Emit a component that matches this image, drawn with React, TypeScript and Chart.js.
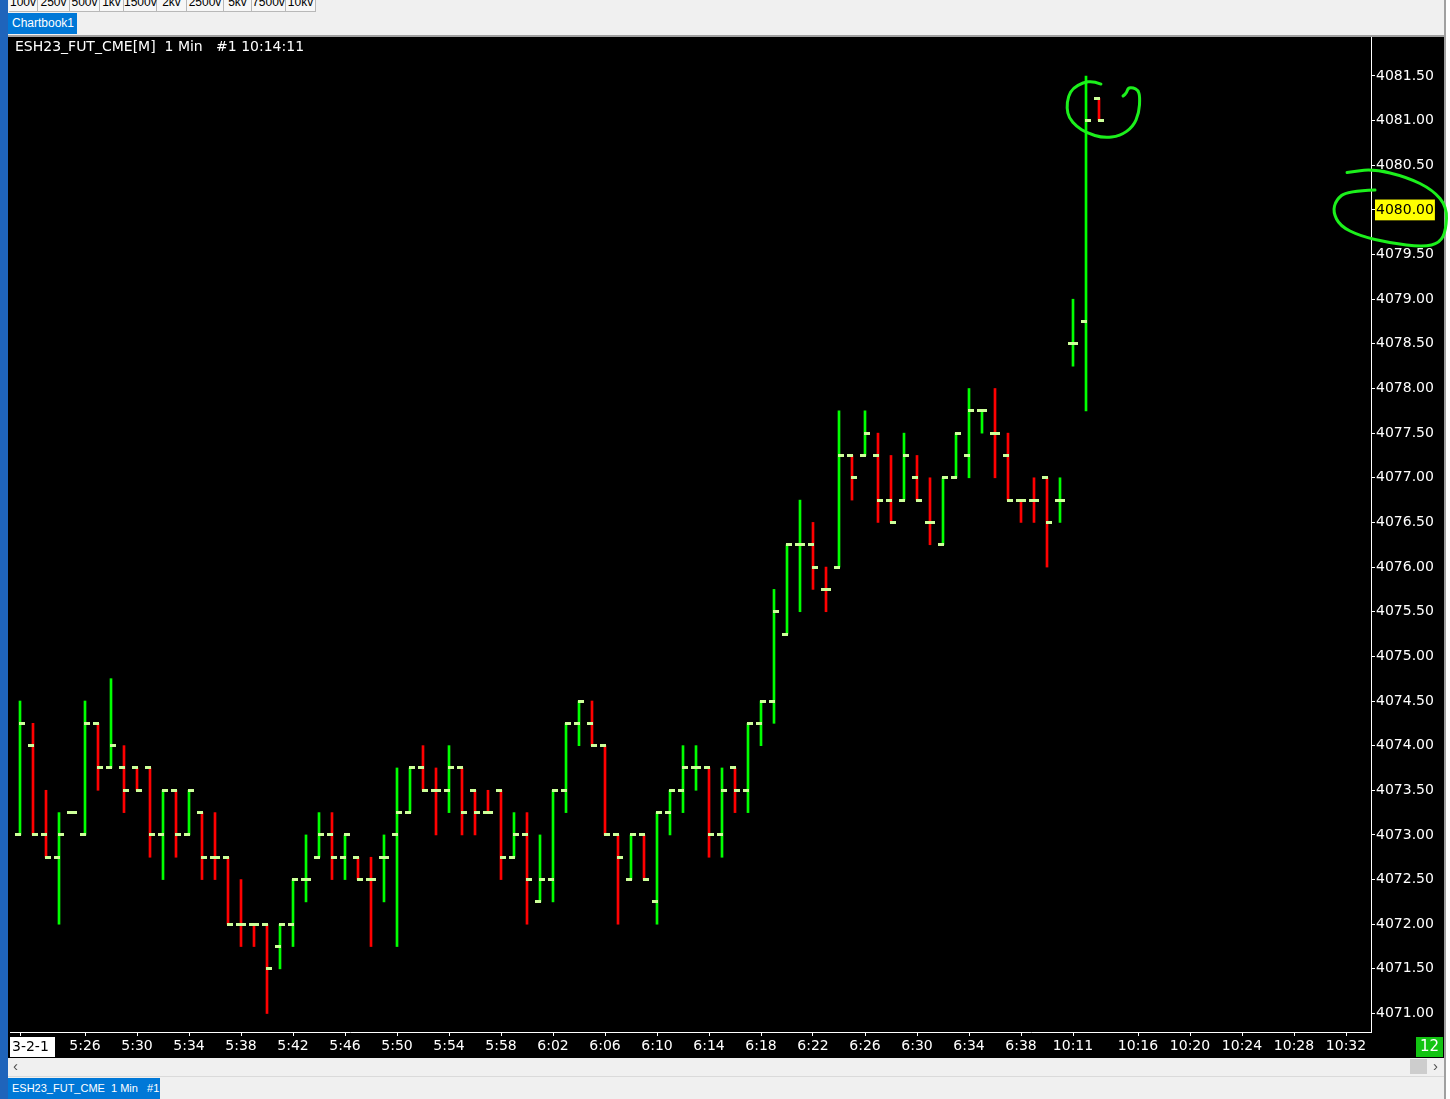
import React, { useEffect, useRef } from "react";
import { Chart, registerables } from "chart.js";

Chart.register(...registerables);

// ---- data (1-minute OHLC bars, slot index = position on the time axis) ----
const opens = [
  4073.0, 4074.0, 4073.0, 4072.75, 4073.25, 4073.0, 4074.25, 4073.75, 4073.75, 4073.75,
  4073.75, 4073.0, 4073.5, 4073.0, 4073.25, 4072.75, 4072.75, 4072.0, 4072.0, 4072.0,
  4071.75, 4072.0, 4072.5, 4072.75, 4073.0, 4072.75, 4072.75, 4072.5, 4072.75, 4073.0,
  4073.25, 4073.75, 4073.5, 4073.5, 4073.75, 4073.5, 4073.25, 4073.5, 4072.75, 4073.0,
  4072.25, 4072.5, 4073.5, 4074.25, 4074.25, 4074.0, 4073.0, 4072.5, 4073.0, 4072.25,
  4073.25, 4073.5, 4073.75, 4073.75, 4073.0, 4073.75, 4073.5, 4074.25, 4074.5, 4075.25,
  4076.25, 4076.25, 4075.75, 4076.0, 4077.25, 4077.25, 4077.25, 4076.75, 4076.75, 4077.0,
  4076.5, 4076.25, 4077.0, 4077.25, 4077.75, 4077.5, 4077.25, 4076.75, 4076.75, 4077.0,
  4076.75, 4078.5, 4078.75, 4081.25,
];
const highs = [
  4074.5, 4074.25, 4073.5, 4073.25, 4073.25, 4074.5, 4074.25, 4074.75, 4074.0, 4073.75,
  4073.75, 4073.5, 4073.5, 4073.5, 4073.25, 4073.25, 4072.75, 4072.5, 4072.0, 4072.0,
  4072.0, 4072.5, 4073.0, 4073.25, 4073.25, 4073.0, 4072.75, 4072.75, 4073.0, 4073.75,
  4073.75, 4074.0, 4073.75, 4074.0, 4073.75, 4073.5, 4073.5, 4073.5, 4073.25, 4073.25,
  4073.0, 4073.5, 4074.25, 4074.5, 4074.5, 4074.0, 4073.0, 4073.0, 4073.0, 4073.25,
  4073.5, 4074.0, 4074.0, 4073.75, 4073.75, 4073.75, 4074.25, 4074.5, 4075.75, 4076.25,
  4076.75, 4076.5, 4076.0, 4077.75, 4077.25, 4077.75, 4077.5, 4077.25, 4077.5, 4077.25,
  4077.0, 4077.0, 4077.5, 4078.0, 4077.75, 4078.0, 4077.5, 4076.75, 4077.0, 4077.0,
  4077.0, 4079.0, 4081.5, 4081.25,
];
const lows = [
  4073.0, 4073.0, 4072.75, 4072.0, 4073.25, 4073.0, 4073.5, 4073.75, 4073.25, 4073.5,
  4072.75, 4072.5, 4072.75, 4073.0, 4072.5, 4072.5, 4072.0, 4071.75, 4071.75, 4071.0,
  4071.5, 4071.75, 4072.25, 4072.75, 4072.5, 4072.5, 4072.5, 4071.75, 4072.25, 4071.75,
  4073.25, 4073.5, 4073.0, 4073.25, 4073.0, 4073.0, 4073.25, 4072.5, 4072.75, 4072.0,
  4072.25, 4072.25, 4073.25, 4074.0, 4074.0, 4073.0, 4072.0, 4072.5, 4072.5, 4072.0,
  4073.0, 4073.25, 4073.5, 4072.75, 4072.75, 4073.25, 4073.25, 4074.0, 4074.25, 4075.25,
  4075.5, 4075.75, 4075.5, 4076.0, 4076.75, 4077.25, 4076.5, 4076.5, 4076.75, 4076.75,
  4076.25, 4076.25, 4077.0, 4077.0, 4077.5, 4077.0, 4076.75, 4076.5, 4076.5, 4076.0,
  4076.5, 4078.25, 4077.75, 4081.0,
];
const closes = [
  4074.25, 4073.0, 4072.75, 4073.0, 4073.25, 4074.25, 4073.75, 4074.0, 4073.5, 4073.5,
  4073.0, 4073.5, 4073.0, 4073.5, 4072.75, 4072.75, 4072.0, 4072.0, 4072.0, 4071.5,
  4072.0, 4072.5, 4072.5, 4073.0, 4072.75, 4073.0, 4072.5, 4072.5, 4072.75, 4073.25,
  4073.75, 4073.5, 4073.5, 4073.75, 4073.25, 4073.25, 4073.25, 4072.75, 4073.0, 4072.5,
  4072.5, 4073.5, 4074.25, 4074.5, 4074.0, 4073.0, 4072.75, 4073.0, 4072.5, 4073.25,
  4073.5, 4073.75, 4073.75, 4073.0, 4073.5, 4073.5, 4074.25, 4074.5, 4075.5, 4076.25,
  4076.25, 4076.0, 4075.75, 4077.25, 4077.0, 4077.5, 4076.75, 4076.5, 4077.25, 4076.75,
  4076.5, 4077.0, 4077.5, 4077.75, 4077.75, 4077.5, 4076.75, 4076.75, 4076.75, 4076.5,
  4076.75, 4078.5, 4081.0, 4081.0,
];

// time axis ticks (slot index -> label); slot 0 carries the date label
const tickSlots = [0, 5, 9, 13, 17, 21, 25, 29, 33, 37, 41, 45, 49, 53, 57, 61, 65, 69, 73, 77, 81, 86, 90, 94, 98, 102];
const tickLabels = [
  "", "5:26", "5:30", "5:34", "5:38", "5:42", "5:46", "5:50", "5:54", "5:58", "6:02", "6:06", "6:10",
  "6:14", "6:18", "6:22", "6:26", "6:30", "6:34", "6:38", "10:11", "10:16", "10:20", "10:24", "10:28", "10:32",
];
const dateLabel = "3-2-1";

const priceTicks = [
  4071.0, 4071.5, 4072.0, 4072.5, 4073.0, 4073.5, 4074.0, 4074.5, 4075.0, 4075.5, 4076.0,
  4076.5, 4077.0, 4077.5, 4078.0, 4078.5, 4079.0, 4079.5, 4080.0, 4080.5, 4081.0, 4081.5,
];
const highlightedPrice = 4080.0;
const titleText = "ESH23_FUT_CME[M]  1 Min   #1 10:14:11";
const countdownText = "12";

// hand-drawn annotation strokes, as [slot, price]
const ringAroundLastBars = [
  [83.15, 4081.41], [82.54, 4081.444], [81.77, 4081.425], [81.0, 4081.366], [80.62, 4081.268],
  [80.52, 4081.142], [80.69, 4081.03], [81.28, 4080.932], [82.05, 4080.862], [83.31, 4080.806],
  [84.62, 4080.828], [85.62, 4080.932], [86.08, 4081.086], [86.15, 4081.268], [86.0, 4081.343],
  [85.62, 4081.369], [85.23, 4081.366], [85.13, 4081.31], [84.85, 4081.276],
];
const ringAroundPrice = [
  [104.23, 4080.223], [102.08, 4080.212], [101.23, 4080.111], [101.0, 4079.977], [101.54, 4079.82],
  [103.08, 4079.708], [105.38, 4079.63], [107.92, 4079.585], [109.23, 4079.63], [109.69, 4079.775],
  [109.77, 4080.033], [108.69, 4080.223], [106.69, 4080.369], [104.08, 4080.46], [102.08, 4080.42],
];

const UP = "#00ff00";
const DOWN = "#ff0000";
const TICK = "#ccff99";
const FONT = "'DejaVu Sans', sans-serif";

function barColors(): string[] {
  const out: string[] = [];
  let up = true;
  for (let i = 0; i < closes.length; i++) {
    if (closes[i] > opens[i]) up = true;
    else if (closes[i] < opens[i]) up = false;
    else if (i > 0 && closes[i] > closes[i - 1]) up = true;
    else if (i > 0 && closes[i] < closes[i - 1]) up = false;
    out.push(up ? UP : DOWN);
  }
  return out;
}

function makeTick(side: "open" | "close"): HTMLCanvasElement {
  const c = document.createElement("canvas");
  c.width = 10;
  c.height = 3;
  const g = c.getContext("2d")!;
  g.fillStyle = TICK;
  if (side === "open") g.fillRect(0, 0, 6, 3);
  else g.fillRect(4, 0, 6, 3);
  return c;
}

function strokeRing(chart: any, pts: number[][]) {
  const { ctx } = chart;
  const xs = chart.scales.x;
  const ys = chart.scales.y;
  const p = pts.map(([i, v]) => [xs.getPixelForValue(i), ys.getPixelForValue(v)]);
  ctx.save();
  ctx.strokeStyle = "#1cf01c";
  ctx.lineWidth = 3;
  ctx.lineCap = "round";
  ctx.lineJoin = "round";
  ctx.beginPath();
  ctx.moveTo(p[0][0], p[0][1]);
  for (let k = 1; k < p.length - 1; k++) {
    const mx = (p[k][0] + p[k + 1][0]) / 2;
    const my = (p[k][1] + p[k + 1][1]) / 2;
    ctx.quadraticCurveTo(p[k][0], p[k][1], mx, my);
  }
  const last = p[p.length - 1];
  ctx.lineTo(last[0], last[1]);
  ctx.stroke();
  ctx.restore();
}

const decorPlugin = {
  id: "decor",
  beforeDraw(chart: any) {
    const { ctx, chartArea } = chart;
    ctx.save();
    ctx.fillStyle = "#000";
    ctx.fillRect(0, 0, chartArea.right + 73, chart.height);
    ctx.restore();
  },
  afterDraw(chart: any) {
    const { ctx, chartArea } = chart;
    ctx.save();
    ctx.font = `14px ${FONT}`;
    ctx.fillStyle = "#fff";
    ctx.textAlign = "left";
    ctx.textBaseline = "alphabetic";
    ctx.fillText(titleText, chartArea.left + 5, chartArea.top + 14);

    // date label box at the start of the time axis
    ctx.fillStyle = "#fff";
    ctx.fillRect(chartArea.left, chartArea.bottom + 5, 45, 20);
    ctx.fillStyle = "#000";
    ctx.textBaseline = "middle";
    ctx.fillText(dateLabel, chartArea.left + 2, chartArea.bottom + 15);

    // bar countdown box
    ctx.fillStyle = "#12c412";
    ctx.fillRect(chartArea.right + 45, chartArea.bottom + 5, 27, 20);
    ctx.fillStyle = "#fff";
    ctx.textAlign = "center";
    ctx.font = `15px ${FONT}`;
    ctx.fillText(countdownText, chartArea.right + 58.5, chartArea.bottom + 15);
    ctx.restore();

    strokeRing(chart, ringAroundLastBars);
    strokeRing(chart, ringAroundPrice);
  },
};

const toolbarButtons = [
  ["100v", 29], ["250v", 32], ["500v", 30], ["1kv", 24], ["1500v", 33],
  ["2kv", 30], ["2500v", 37], ["5kv", 28], ["7500v", 34], ["10kv", 30],
] as const;

function noPadding(s: any) {
  s.paddingLeft = 0;
  s.paddingRight = 0;
  s.paddingTop = 0;
  s.paddingBottom = 0;
}

export default function App() {
  const canvasRef = useRef<HTMLCanvasElement | null>(null);

  useEffect(() => {
    const canvas = canvasRef.current;
    if (!canvas) return;
    const colors = barColors();
    const openImg = makeTick("open");
    const closeImg = makeTick("close");
    const xMin = -10 / 13;
    const xMax = xMin + 1361 / 13;

    const chart = new Chart(canvas, {
      type: "bar",
      data: {
        datasets: [
          {
            type: "scatter",
            data: opens.map((o, i) => ({ x: i, y: o })),
            pointStyle: openImg as any,
            pointRadius: 3,
            order: 1,
          } as any,
          {
            type: "scatter",
            data: closes.map((c, i) => ({ x: i, y: c })),
            pointStyle: closeImg as any,
            pointRadius: 3,
            order: 1,
          } as any,
          {
            type: "bar",
            data: highs.map((h, i) => ({ x: i, y: [lows[i], h] })),
            backgroundColor: colors,
            borderWidth: 0,
            barThickness: 2,
            order: 2,
          } as any,
        ],
      },
      options: {
        responsive: false,
        animation: false,
        events: [],
        layout: { padding: 0, autoPadding: false },
        plugins: {
          legend: { display: false },
          tooltip: { enabled: false },
          title: { display: false },
        },
        scales: {
          x: {
            type: "linear",
            position: "bottom",
            min: xMin,
            max: xMax,
            offset: false,
            afterBuildTicks: (s: any) => {
              s.ticks = tickSlots.map((v) => ({ value: v }));
            },
            afterFit: (s: any) => {
              s.height = 26;
              noPadding(s);
            },
            ticks: {
              autoSkip: false,
              maxRotation: 0,
              minRotation: 0,
              color: "#fff",
              padding: 2,
              font: { family: FONT, size: 14 },
              callback: (_v: any, i: number) => tickLabels[i],
            },
            grid: {
              display: true,
              offset: false,
              drawOnChartArea: false,
              drawTicks: true,
              tickLength: 4,
              color: "#fff",
            },
            border: { display: true, color: "#fff", width: 1 },
          },
          y: {
            type: "linear",
            position: "right",
            min: 4070.7928,
            max: 4081.9368,
            afterBuildTicks: (s: any) => {
              s.ticks = priceTicks.map((v) => ({ value: v }));
            },
            afterFit: (s: any) => {
              s.width = 79;
              noPadding(s);
            },
            ticks: {
              padding: 1,
              font: { family: FONT, size: 14 },
              color: (c: any) => (c.tick && c.tick.value === highlightedPrice ? "#000" : "#fff"),
              showLabelBackdrop: (c: any) => !!(c.tick && c.tick.value === highlightedPrice),
              backdropColor: (c: any) =>
                c.tick && c.tick.value === highlightedPrice ? "#ffff00" : "rgba(0,0,0,0)",
              backdropPadding: { top: 2, bottom: 2, left: 1, right: 1 },
              callback: (v: any) => Number(v).toFixed(2),
            },
            grid: {
              display: true,
              drawOnChartArea: false,
              drawTicks: true,
              tickLength: 4,
              color: "#fff",
            },
            border: { display: true, color: "#fff", width: 1 },
          },
        },
      } as any,
      plugins: [decorPlugin],
    });
    return () => chart.destroy();
  }, []);

  let bx = 9;
  return (
    <div
      style={{
        position: "fixed",
        left: 0,
        top: 0,
        width: 1450,
        height: 1099,
        background: "#f0f0f0",
        overflow: "hidden",
        fontFamily: "'Liberation Sans', Arial, sans-serif",
      }}
    >
      {/* left window strip */}
      <div style={{ position: "absolute", left: 0, top: 0, width: 8, height: 1099, background: "#1f64bb" }} />
      {/* right neighbour window strip */}
      <div style={{ position: "absolute", left: 1444, top: 0, width: 2, height: 1099, background: "#a0a0a0" }} />
      <div style={{ position: "absolute", left: 1446, top: 0, width: 4, height: 1099, background: "#ffffff" }} />

      {/* toolbar buttons (partially scrolled out) */}
      {toolbarButtons.map(([label, w]) => {
        const left = bx;
        bx += w;
        return (
          <div
            key={label}
            style={{
              position: "absolute",
              left,
              top: -6,
              width: w - 1,
              height: 17,
              background: "#f7f7f7",
              borderRight: "1px solid #b8b8b8",
              borderBottom: "1px solid #b8b8b8",
              fontSize: 12,
              lineHeight: "16px",
              textAlign: "center",
              color: "#000",
              whiteSpace: "nowrap",
            }}
          >
            {label}
          </div>
        );
      })}

      {/* chartbook tab */}
      <div
        style={{
          position: "absolute",
          left: 8,
          top: 13,
          width: 69,
          height: 21,
          background: "#0078d7",
          color: "#fff",
          fontSize: 12,
          lineHeight: "21px",
          paddingLeft: 4,
          boxSizing: "border-box",
        }}
      >
        Chartbook1
      </div>
      <div style={{ position: "absolute", left: 8, top: 35, width: 1436, height: 2, background: "#a0a0a0" }} />

      {/* chart window */}
      <div style={{ position: "absolute", left: 8, top: 37, width: 1436, height: 1021, background: "#000" }} />
      <canvas
        ref={canvasRef}
        width={1440}
        height={1021}
        style={{ position: "absolute", left: 10, top: 37, width: 1440, height: 1021 }}
      />

      {/* horizontal scrollbar */}
      <div style={{ position: "absolute", left: 8, top: 1058, width: 1436, height: 18, background: "#f0f0f0" }} />
      <div style={{ position: "absolute", left: 13, top: 1057, height: 18, fontSize: 15, lineHeight: "18px", color: "#505050" }}>
        ‹
      </div>
      <div style={{ position: "absolute", left: 1410, top: 1059, width: 17, height: 15, background: "#cdcdcd" }} />
      <div style={{ position: "absolute", left: 1433, top: 1057, height: 18, fontSize: 15, lineHeight: "18px", color: "#505050" }}>
        ›
      </div>
      <div style={{ position: "absolute", left: 8, top: 1076, width: 1436, height: 1, background: "#dadada" }} />

      {/* bottom chart tab */}
      <div
        style={{
          position: "absolute",
          left: 8,
          top: 1078,
          width: 152,
          height: 21,
          background: "#0078d7",
          color: "#fff",
          fontSize: 11,
          lineHeight: "21px",
          paddingLeft: 4,
          boxSizing: "border-box",
          whiteSpace: "pre",
        }}
      >
        {"ESH23_FUT_CME  1 Min   #1"}
      </div>
    </div>
  );
}
